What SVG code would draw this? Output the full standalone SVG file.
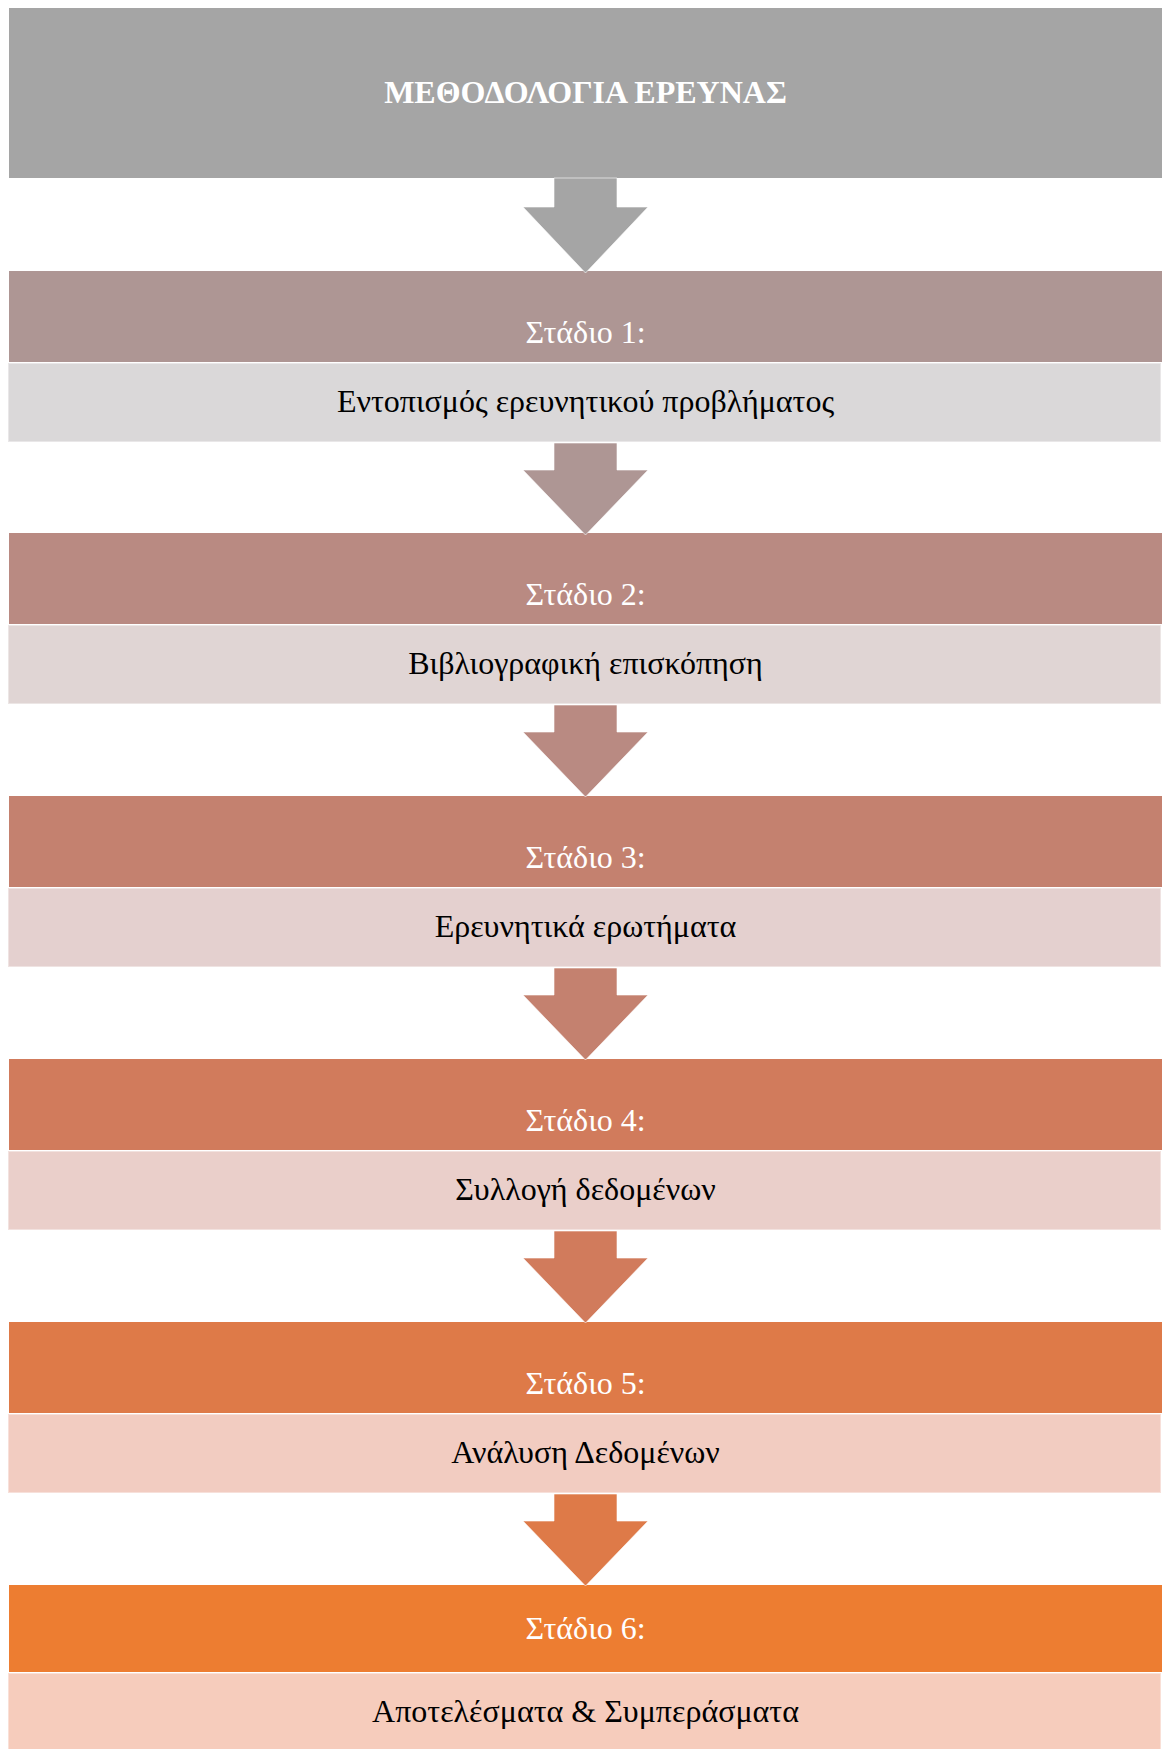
<svg xmlns="http://www.w3.org/2000/svg" width="1162" height="1749" viewBox="0 0 1162 1749">
<style>
  .hdr { font-family: "Liberation Serif", "Times New Roman", serif; font-size: 32px; font-weight: bold; fill: #FFFFFF; text-anchor: middle; }
  .lbl { font-family: "Liberation Serif", "Times New Roman", serif; font-size: 32px; fill: #FFFFFF; text-anchor: middle; }
  .txt { font-family: "Liberation Serif", "Times New Roman", serif; font-size: 32px; fill: #000000; text-anchor: middle; }
  .lite { stroke: #FFFFFF; stroke-opacity: 0.4; stroke-width: 2; }
  .arr { stroke: #FFFFFF; stroke-width: 1; stroke-opacity: 0.6; }
</style>
<rect width="1162" height="1749" fill="#FFFFFF"/>

<g id="header">
  <rect x="9" y="8" width="1153" height="170" fill="#A5A5A5"/>
  <text class="hdr" x="585.5" y="103">ΜΕΘΟΔΟΛΟΓΙΑ ΕΡΕΥΝΑΣ</text>
</g>

<g id="stage1">
  <rect x="9" y="271" width="1153" height="91" fill="#AE9694"/>
  <text class="lbl" x="585.5" y="343">Στάδιο 1:</text>
  <rect class="lite" x="8" y="363" width="1153" height="79" fill="#DAD8D9"/>
  <text class="txt" x="585.5" y="412">Εντοπισμός ερευνητικού προβλήματος</text>
</g>

<g id="stage2">
  <rect x="9" y="533" width="1153" height="91" fill="#B98A82"/>
  <text class="lbl" x="585.5" y="605">Στάδιο 2:</text>
  <rect class="lite" x="8" y="625" width="1153" height="79" fill="#E0D5D4"/>
  <text class="txt" x="585.5" y="674">Βιβλιογραφική επισκόπηση</text>
</g>

<g id="stage3">
  <rect x="9" y="796" width="1153" height="91" fill="#C4816F"/>
  <text class="lbl" x="585.5" y="868">Στάδιο 3:</text>
  <rect class="lite" x="8" y="888" width="1153" height="79" fill="#E4D0CF"/>
  <text class="txt" x="585.5" y="937">Ερευνητικά ερωτήματα</text>
</g>

<g id="stage4">
  <rect x="9" y="1059" width="1153" height="91" fill="#D17B5C"/>
  <text class="lbl" x="585.5" y="1131">Στάδιο 4:</text>
  <rect class="lite" x="8" y="1151" width="1153" height="79" fill="#EACFCA"/>
  <text class="txt" x="585.5" y="1200">Συλλογή δεδομένων</text>
</g>

<g id="stage5">
  <rect x="9" y="1322" width="1153" height="91" fill="#DE7A48"/>
  <text class="lbl" x="585.5" y="1394">Στάδιο 5:</text>
  <rect class="lite" x="8" y="1414" width="1153" height="79" fill="#F2CCC1"/>
  <text class="txt" x="585.5" y="1463">Ανάλυση Δεδομένων</text>
</g>

<g id="stage6">
  <rect x="9" y="1585" width="1153" height="87" fill="#ED7D31"/>
  <text class="lbl" x="585.5" y="1639">Στάδιο 6:</text>
  <rect class="lite" x="8" y="1673" width="1153" height="90" fill="#F6CCBC"/>
  <text class="txt" x="585.5" y="1722">Αποτελέσματα &amp; Συμπεράσματα</text>
</g>

<g id="connectors">
  <path class="arr" fill="#A5A5A5" d="M554,178 H617 V207 H648 L585.5,273 L523,207 H554 Z"/>
  <path class="arr" fill="#AE9694" d="M554,443 H617 V470 H648 L585.5,535 L523,470 H554 Z"/>
  <path class="arr" fill="#B98A82" d="M554,705 H617 V732 H648 L585.5,797 L523,732 H554 Z"/>
  <path class="arr" fill="#C4816F" d="M554,968 H617 V995 H648 L585.5,1060 L523,995 H554 Z"/>
  <path class="arr" fill="#D17B5C" d="M554,1231 H617 V1258 H648 L585.5,1323 L523,1258 H554 Z"/>
  <path class="arr" fill="#DE7A48" d="M554,1494 H617 V1521 H648 L585.5,1586 L523,1521 H554 Z"/>
</g>
</svg>
